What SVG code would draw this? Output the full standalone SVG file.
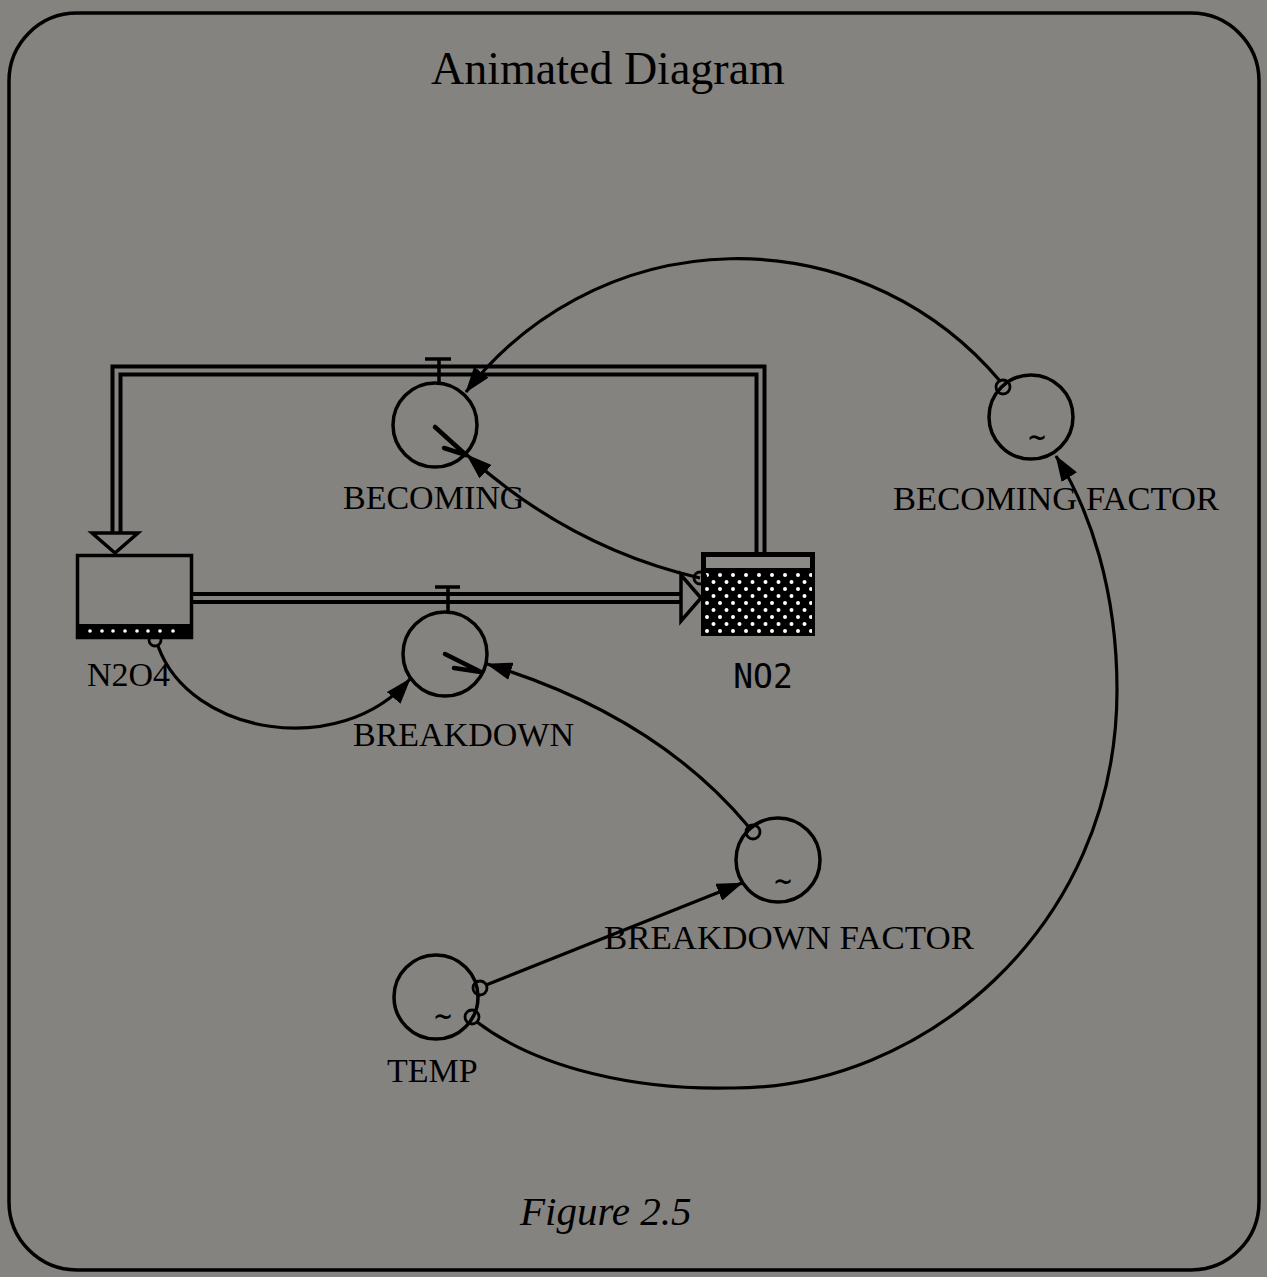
<svg xmlns="http://www.w3.org/2000/svg" width="1267" height="1277" viewBox="0 0 1267 1277">
<style>
.lbl{font-family:"Liberation Serif","Times New Roman",serif;font-size:34px;fill:#000}
.ln{fill:none;stroke:#000;stroke-width:3.5}
.conn{fill:none;stroke:#000;stroke-width:3.2}
.orig{fill:none;stroke:#000;stroke-width:2.8}
.tilde{font-family:"DejaVu Sans",sans-serif;font-size:24px;font-weight:bold;text-anchor:middle;fill:#000}
</style>
<defs>
<marker id="arr" viewBox="0 0 26 18" refX="25" refY="9" markerWidth="26" markerHeight="18" markerUnits="userSpaceOnUse" orient="auto">
<path d="M0,0 L26,9 L0,18 z" fill="#000"/>
</marker>
<pattern id="dots" x="704" y="572" width="13" height="14" patternUnits="userSpaceOnUse">
<circle cx="3" cy="3" r="2" fill="#fff"/>
<circle cx="9.5" cy="10" r="2" fill="#fff"/>
</pattern>
</defs>
<rect x="0" y="0" width="1267" height="1277" fill="#85837f"/>
<rect x="9" y="13" width="1250" height="1257" rx="68" ry="68" fill="none" stroke="#000" stroke-width="3.5"/>
<text x="431" y="84" style="font-family:'Liberation Serif','Times New Roman',serif;font-size:46px">Animated Diagram</text>

<g id="pipes">
<path d="M760.5,552 V370.5 H116.5 V534" fill="none" stroke="#000" stroke-width="12"/>
<path d="M760.5,552 V370.5 H116.5 V534" fill="none" stroke="#85837f" stroke-width="4"/>
<polygon points="92,533 138,533 115,553" fill="#85837f" stroke="#000" stroke-width="3.5"/>
<path d="M192,598 H682" fill="none" stroke="#000" stroke-width="12"/>
<path d="M192,598 H682" fill="none" stroke="#85837f" stroke-width="4"/>
<polygon points="681,575 681,621 701,598" fill="#85837f" stroke="#000" stroke-width="3.5"/>
</g>

<g id="N2O4">
<rect x="77.5" y="555.5" width="114" height="82" fill="#85837f" stroke="#000" stroke-width="3.5"/>
<rect x="77" y="624" width="115" height="14" fill="#000"/>
<g fill="#fff">
<circle cx="90" cy="631" r="1.8"/><circle cx="102" cy="631" r="1.8"/><circle cx="113" cy="631" r="1.8"/><circle cx="125" cy="631" r="1.8"/><circle cx="137" cy="631" r="1.8"/><circle cx="148" cy="631" r="1.8"/><circle cx="160" cy="631" r="1.8"/><circle cx="173" cy="631" r="1.8"/>
</g>
<text class="lbl" x="87" y="686">N2O4</text>
</g>

<g id="NO2">
<rect x="701" y="552" width="114" height="84" fill="#000"/>
<rect x="706" y="557" width="104" height="11" fill="#8c8a86"/>
<rect x="704" y="572" width="108" height="62" fill="url(#dots)"/>
<text x="763" y="688" text-anchor="middle" style="font-family:'DejaVu Sans Mono',monospace;font-size:33px">NO2</text>
</g>

<g id="BECOMING">
<circle cx="435" cy="425" r="42" class="ln"/>
<path d="M439,383 V359 M425,359 H451" class="ln"/>
<path d="M435,427 L466,455 M444,448 L466,455" fill="none" stroke="#000" stroke-width="4.5" stroke-linecap="round"/>
<text class="lbl" x="343" y="509">BECOMING</text>
</g>

<g id="BREAKDOWN">
<circle cx="445" cy="654" r="42" class="ln"/>
<path d="M448,612 V587 M435,587 H460" class="ln"/>
<path d="M445,654 L481,672 M454,668 L481,672" fill="none" stroke="#000" stroke-width="4.5" stroke-linecap="round"/>
<text class="lbl" x="353" y="746">BREAKDOWN</text>
</g>

<g id="BECOMING_FACTOR">
<circle cx="1031" cy="417" r="42" class="ln"/>
<text class="tilde" x="1037" y="446">~</text>
<text class="lbl" x="893" y="510" textLength="326" lengthAdjust="spacingAndGlyphs">BECOMING FACTOR</text>
</g>

<g id="BREAKDOWN_FACTOR">
<circle cx="778" cy="860" r="42" class="ln"/>
<text class="tilde" x="783" y="890">~</text>
<text class="lbl" x="604" y="949" textLength="370" lengthAdjust="spacingAndGlyphs">BREAKDOWN FACTOR</text>
</g>

<g id="TEMP">
<circle cx="436" cy="997" r="42" class="ln"/>
<text class="tilde" x="443" y="1025">~</text>
<text class="lbl" x="387" y="1082">TEMP</text>
</g>

<g id="connectors">
<path class="conn" d="M1000,381 A343,343 0 0 0 466,392" marker-end="url(#arr)"/>
<circle class="orig" cx="1003" cy="387" r="7"/>
<path class="conn" d="M700,578 Q570,548 467,455" marker-end="url(#arr)"/>
<circle class="orig" cx="700" cy="578" r="6"/>
<path class="conn" d="M158,646 C190,735 340,760 410,679" marker-end="url(#arr)"/>
<circle class="orig" cx="155" cy="640" r="6"/>
<path class="conn" d="M748,826 Q655,715 487,664" marker-end="url(#arr)"/>
<circle class="orig" cx="753" cy="832" r="7"/>
<path class="conn" d="M486,985 L742,883" marker-end="url(#arr)"/>
<circle class="orig" cx="480" cy="988" r="7"/>
<path class="conn" d="M477,1022 C540,1070 640,1090 730,1088 C920,1090 1117,930 1117,690 C1117,590 1090,510 1056,456" marker-end="url(#arr)"/>
<circle class="orig" cx="472" cy="1017" r="7"/>
</g>

<text x="520" y="1225" style="font-family:'Liberation Serif','Times New Roman',serif;font-size:41px;font-style:italic">Figure 2.5</text>
</svg>
